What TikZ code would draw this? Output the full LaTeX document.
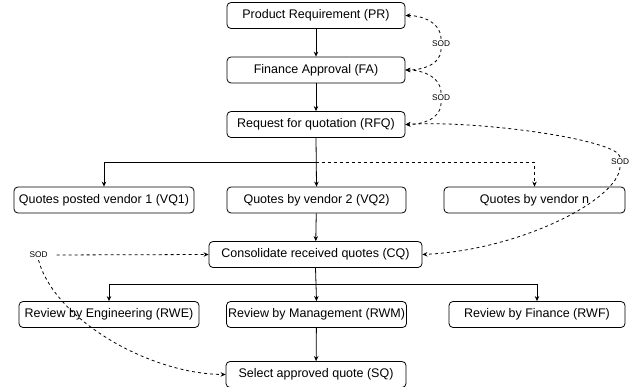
\documentclass[tikz,border=0pt]{standalone}
\usepackage{fontspec}
\setmainfont{Liberation Sans}
\usetikzlibrary{arrows.meta}

\tikzset{
  stepbox/.style={draw, rounded corners=4pt, line width=0.8pt, minimum height=26pt,
    inner sep=0pt, font=\fontsize{12.5}{14}\selectfont},
  flow/.style={draw, line width=0.8pt, -{Stealth[length=5pt,width=4.5pt]}},
  soddash/.style={draw, line width=0.8pt, dash pattern=on 3pt off 3pt},
  sodarrow/.style={soddash, -{Stealth[length=5pt,width=4.5pt]}},
  sodlabel/.style={inner sep=2pt, font=\fontsize{8.3}{9}\selectfont}
}

\begin{document}
\begin{tikzpicture}[x=1pt,y=-1pt]
\useasboundingbox (0,0) rectangle (636,387);

% process steps
\node[stepbox, minimum width=178pt] (PR)  at (316,15.5)  {Product Requirement (PR)};
\node[stepbox, minimum width=178pt] (FA)  at (316,70)    {Finance Approval (FA)};
\node[stepbox, minimum width=178pt] (RFQ) at (316,124.5) {Request for quotation (RFQ)};

\node[stepbox, minimum width=180pt] (VQ1) at (104,200)   {Quotes posted vendor 1 (VQ1)};
\node[stepbox, minimum width=179pt] (VQ2) at (316.5,200) {Quotes by vendor 2 (VQ2)};
\node[stepbox, minimum width=181pt] (VQn) at (534.5,200) {Quotes by vendor n};

\node[stepbox, minimum width=213pt] (CQ)  at (315.5,254.5) {Consolidate received quotes (CQ)};

\node[stepbox, minimum width=180pt] (RWE) at (109,314.5)   {Review by Engineering (RWE)};
\node[stepbox, minimum width=180pt] (RWM) at (316.5,314.5) {Review by Management (RWM)};
\node[stepbox, minimum width=176pt] (RWF) at (537,314.5)   {Review by Finance (RWF)};

\node[stepbox, minimum width=180pt] (SQ)  at (316,374.5) {Select approved quote (SQ)};

% branch points
\coordinate (j1) at (316,162.5);
\coordinate (j2) at (316.5,284);

% main flow
\draw[flow] (PR) -- (FA);
\draw[flow] (FA) -- (RFQ);
\draw[flow] (RFQ.south) -- (VQ2.north);
\draw[flow] (j1) -| (VQ1.north);
\draw[sodarrow] (j1) -| (VQn.north);
\draw[flow] (VQ2) -- (CQ);
\draw[flow] (CQ.south) -- (RWM.north);
\draw[flow] (j2) -| (RWE.north);
\draw[flow] (j2) -| (RWF.north);
\draw[flow] (RWM) -- (SQ);

% separation of duties
\node[sodlabel] (s1) at (441,44)  {SOD};
\node[sodlabel] (s2) at (441,98)  {SOD};
\node[sodlabel] (s3) at (620,162) {SOD};
\node[sodlabel] (s4) at (38.5,255) {SOD};

\draw[sodarrow] (s1.north) to[out=90,in=0] (PR.east);
\draw[sodarrow] (s1.south) to[out=-90,in=0] (FA.east);
\draw[sodarrow] (s2.north) to[out=90,in=0] (FA.east);
\draw[sodarrow] (s2.south) to[out=-90,in=0] (RFQ.east);

\draw[sodarrow] (s3.north) .. controls (618,140) and (480,120) .. (RFQ.east);
\draw[sodarrow] (s3.south) .. controls (618,200) and (520,250) .. (CQ.east);

\draw[sodarrow, shorten <=7pt] (s4.east) -- (CQ.west);
\draw[sodarrow] (s4.south) .. controls (55,320) and (150,374) .. (SQ.west);
\end{tikzpicture}
\end{document}
